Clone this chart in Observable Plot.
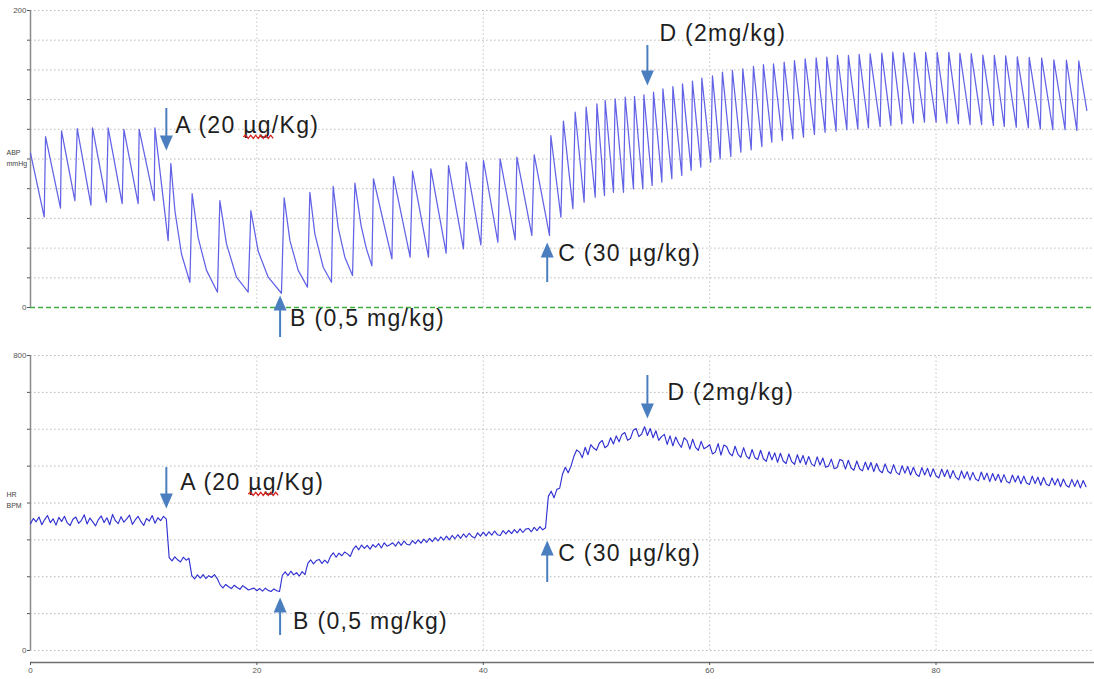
<!DOCTYPE html>
<html><head><meta charset="utf-8">
<script src="https://cdn.jsdelivr.net/npm/d3@7"></script>
<script src="https://cdn.jsdelivr.net/npm/@observablehq/plot@0.6"></script>
<style>
body{margin:0;background:#fff;}
#chart svg{display:block;}
.dose-label{letter-spacing:1.3px;}
</style></head><body><div id="chart"></div>
<script>
// ---- ABP waveform vertices (time, mmHg) ----
const abpTime = [0.00,1.21,1.33,2.65,2.74,3.92,4.13,5.34,5.48,6.71,6.86,8.10,8.25,9.51,9.60,10.93,10.99,12.16,12.40,
12.76,13.34,14.08,14.28,14.81,15.55,16.52,16.73,17.31,18.20,19.23,19.47,20.11,21.00,22.17,22.41,22.92,23.65,24.47,24.68,
25.12,25.86,26.59,26.74,27.18,27.77,28.45,28.66,29.21,29.66,30.16,30.30,
31.93,32.07,33.54,33.75,35.16,35.37,36.72,36.93,38.25,38.49,39.79,40.02,41.29,41.49,42.82,42.97,44.29,44.50,45.85,45.97,
46.86,47.08,47.92,48.12,48.91,49.09,49.89,50.04,50.71,50.77,51.50,51.65,52.39,52.54,53.27,53.36,54.10,54.19,54.92,55.04,
55.78,55.87,56.66,56.75,57.54,57.60,58.37,58.48,59.22,59.31,60.09,60.25,60.93,61.13,61.87,62.01,62.76,62.93,63.67,63.87,
64.61,64.75,65.49,65.64,66.43,66.58,67.35,67.49,68.29,68.44,69.26,69.41,70.20,70.35,71.17,71.29,72.12,72.26,73.09,73.21,
74.03,74.18,75.06,75.21,76.01,76.18,76.98,77.12,78.00,78.09,78.98,79.08,80.01,80.10,80.96,81.13,81.98,82.11,83.01,83.11,
84.03,84.14,85.07,85.15,86.03,86.15,87.09,87.18,88.16,88.23,89.22,89.33,90.32,90.41,91.40,91.52,92.44,92.61,93.32];
const abpValue = [104,61,115,67,119,72,120.5,69,121,71,121,70,120,70,120,72,121,45,97,
65,36,17,76.6,47,25,10.3,72,43,20.4,10.3,65.3,38,20.4,9.6,73.9,45,25,13.7,77.6,
49.6,27.1,17,81.5,54,33.9,21.5,83.7,55,40,28,86.7,
32.8,88.2,33.9,91.8,33.9,93.4,36.6,95.6,39.5,97.9,42.2,99,44,100.1,45.6,101.2,48.5,102.8,48.5,115.8,
60.8,125.5,66.5,131.5,70.9,134.9,74.3,137.2,75.4,139.4,77.6,140.5,77.6,141.6,79.9,142.1,79.9,143.2,82.2,145,
84.4,147.3,86.7,148.8,88.9,150.6,92.3,152.4,94.5,154.5,98,156,100.1,158.5,101.7,159.6,104.6,160.7,106.2,162.3,
108.4,163.6,111.3,164.1,112.5,165.2,113.6,166.3,114.7,167.5,116.5,168.1,118,168.6,118.7,169.7,119.7,169.7,120.3,170.4,
121,170.8,121.9,171.3,122.6,171.9,123.7,171.5,124.1,171.5,124.8,171.8,124.8,171.8,124.1,171.8,123.7,171.2,123.2,171,
123.2,170,122.6,169.7,121.9,169.5,121.4,168.8,121,168.4,120.3,167.9,119.7,166.8,119.7,166.5,119.2,166,132.7];

// ---- HR trace (BPM), one reading every 0.25 time units from 0 ----
const hrStep = 0.25;
const hrValue = [
344,358,349,362,341,355,366,347, 357,340,361,350,364,346,339,356,
362,345,353,368,343,359,349,338, 355,365,347,360,341,369,352,344,
363,348,357,367,342,354,364,350, 339,358,351,366,345,360,352,364,
356,252,243,254,246,240,253,245, 250,203,194,205,196,206,195,203,
198,206,195,178,170,179,173,168, 177,171,166,176,170,164,167,169,
162,168,161,169,163,160,167,162, 160,204,213,203,215,205,211,202,
214,206,236,246,235,244,247,236, 245,237,255,265,253,264,257,267,
262,255,274,284,273,286,277,285, 275,287,280,290,278,292,283,287,
292,283,295,285,297,288,286,298, 290,300,291,302,293,304,295,306,
297,308,299,310,300,312,303,314, 304,316,307,318,309,305,319,310,
321,311,322,313,324,314,312,325, 316,326,317,328,319,330,320,329,
331,322,334,325,336,327,333,418, 432,414,437,440,478,497,482,500,
526,544,538,523,551,531,558,549, 543,562,570,550,556,577,560,582,
566,586,591,570,575,597,602,580, 587,607,583,602,577,596,570,580,
586,559,582,555,579,562,551,577, 569,546,573,551,543,567,547,552,
558,533,538,561,530,557,553,535, 528,554,532,524,550,527,520,545,
523,518,543,520,513,539,517,536, 510,535,514,507,533,512,505,531,
509,529,504,526,506,500,525,503, 522,497,500,519,493,496,518,515,
492,516,495,489,514,493,487,511, 490,510,485,507,488,482,506,486,
480,504,483,477,501,481,499,476, 497,478,472,496,476,494,471,493,
474,468,492,472,490,467,488,470, 463,487,467,485,462,483,465,460,
484,463,481,458,480,461,478,456, 477,458,454,476,457,474,452,473,
454,450,473,453,470,448,469,451, 447,468,449,466,444,465,448,443,
464,445,462,441,461,444];

// ---- axes ----
const xTicks = [0, 20, 40, 60, 80];
const abpTicks = [0, 20, 40, 60, 80, 100, 120, 140, 160, 180, 200];
const hrTicks = [0, 100, 200, 300, 400, 500, 600, 700, 800];

// ---- doses ----
const doseLabel = ["A (20 µg/Kg)", "B (0,5 mg/kg)", "C (30 µg/kg)", "D (2mg/kg)"];
const doseTime = [12.0, 22.05, 45.65, 54.5];
const doseDir = ["down", "up", "up", "down"];

// annotation layout (in each panel's own units)
const abpDosePos = {tail: [134, -20.2, 16.8, 176.4], tip: [105.7, 8.1, 43.8, 149.5], label: [122.6, -7.4, 36.4, 184.5], dx: [9, 10, 11, 12], head: 10};
const hrDosePos = {tail: [496, 40.7, 184.4, 745.8], tip: [385, 143.7, 298, 629.2], label: [455.6, 78.6, 263, 699.7], dx: [14, 13, 11, 20], head: 40};

const W = 1094;
const font = "'Liberation Sans', Arial, sans-serif";
const arrowColor = "#4a7ebf";
const gridColor = "#b9b9b9";
const n = Math.min(abpTime.length, abpValue.length);
const abp = abpTime.slice(0, n).map((t, i) => ({t, v: abpValue[i]}));
const hr = hrValue.map((v, i) => ({t: i * hrStep, v}));

const headUp = {draw(ctx) { ctx.moveTo(0, 0); ctx.lineTo(6.5, 15); ctx.lineTo(-6.5, 15); ctx.closePath(); }};
const headDown = {draw(ctx) { ctx.moveTo(0, 0); ctx.lineTo(6.5, -15); ctx.lineTo(-6.5, -15); ctx.closePath(); }};

function doseMarks(pos) {
  const marks = [];
  doseLabel.forEach((label, i) => {
    const down = doseDir[i] === "down";
    const d = [{t: doseTime[i], tail: pos.tail[i], tip: pos.tip[i], mid: pos.tip[i] + (down ? 0.6 : -0.6) * pos.head, ly: pos.label[i], label}];
    marks.push(Plot.ruleX(d, {x: "t", y1: "tail", y2: "mid", stroke: arrowColor, strokeWidth: 2}));
    marks.push(Plot.dot(d, {x: "t", y: "tip", symbol: down ? headDown : headUp, r: 3, fill: arrowColor, stroke: "none"}));
    marks.push(Plot.text(d, {x: "t", y: "ly", text: "label", dx: pos.dx[i], textAnchor: "start", fontSize: 23, fill: "#1e1e1e", fontFamily: font}));
  });
  return marks;
}
const edgeFmt = (lo, hi) => d => (d === lo || d === hi) ? String(d) : "";

const topPlot = Plot.plot({
  width: W, height: 345, marginLeft: 30, marginRight: 0, marginTop: 10, marginBottom: 38,
  style: {fontFamily: font, background: "white", overflow: "visible"},
  x: {domain: [0, 94], axis: null},
  y: {domain: [0, 200], axis: null},
  marks: [
    Plot.ruleY(abpTicks.filter(d => d > 0), {stroke: gridColor, strokeDasharray: "1.5,2.5"}),
    Plot.ruleX(xTicks.filter(d => d > 0), {y1: 0, y2: 200, stroke: "#c6c6c6", strokeDasharray: "1.5,2.5"}),
    Plot.ruleY([0], {stroke: "#3fae3f", strokeDasharray: "5,3", strokeWidth: 1.3}),
    Plot.axisY({ticks: abpTicks, tickSize: 3, tickPadding: 1, tickFormat: edgeFmt(0, 200), fontSize: 8, color: "#555", label: null}),
    Plot.ruleX([0], {y1: 0, y2: 200, stroke: "#8a8a8a", strokeWidth: 1.5}),
    Plot.text(["ABP"], {x: 0, y: 104, text: d => d, dx: -24, textAnchor: "start", fontSize: 7, fill: "#444"}),
    Plot.text(["mmHg"], {x: 0, y: 97, text: d => d, dx: -24, textAnchor: "start", fontSize: 7, fill: "#444"}),
    Plot.line(abp, {x: "t", y: "v", stroke: "#6262e6", strokeWidth: 1.25}),
    ...doseMarks(abpDosePos)
  ]
});

const bottomPlot = Plot.plot({
  width: W, height: 334, marginLeft: 30, marginRight: 0, marginTop: 10, marginBottom: 29,
  style: {fontFamily: font, background: "white", overflow: "visible"},
  x: {domain: [0, 94], axis: null},
  y: {domain: [0, 800], axis: null},
  marks: [
    Plot.ruleY(hrTicks, {stroke: gridColor, strokeDasharray: "1.5,2.5"}),
    Plot.ruleX(xTicks.filter(d => d > 0), {y1: 0, y2: 800, stroke: "#c6c6c6", strokeDasharray: "1.5,2.5"}),
    Plot.axisY({ticks: hrTicks, tickSize: 3, tickPadding: 1, tickFormat: edgeFmt(0, 800), fontSize: 8, color: "#555", label: null}),
    Plot.ruleX([0], {y1: 0, y2: 800, stroke: "#8a8a8a", strokeWidth: 1.5}),
    Plot.ruleY([0], {dy: 12, stroke: "#6f6f6f", strokeWidth: 1.6}),
    Plot.axisX({ticks: xTicks, tickSize: 3, tickPadding: 2, dy: 12, fontSize: 8, color: "#555", label: null}),
    Plot.text(["HR"], {x: 0, y: 423, text: d => d, dx: -24, textAnchor: "start", fontSize: 7, fill: "#444"}),
    Plot.text(["BPM"], {x: 0, y: 393, text: d => d, dx: -24, textAnchor: "start", fontSize: 7, fill: "#444"}),
    Plot.line(hr, {x: "t", y: "v", stroke: "#3232d2", strokeWidth: 1.15}),
    ...doseMarks(hrDosePos)
  ]
});

const chart = document.getElementById("chart");
chart.append(topPlot, bottomPlot);

// dose-label styling: letter spacing, and the red spell-check squiggle under "µg" in the A labels
for (const svg of [topPlot, bottomPlot]) {
  const texts = Array.from(svg.querySelectorAll("text")).filter(el => doseLabel.includes(el.textContent));
  for (const el of texts) {
    el.classList.add("dose-label");
    const txt = el.textContent;
    const k = txt.indexOf("µg/Kg");
    if (k < 0) continue;
    const a = el.getExtentOfChar(k), b = el.getExtentOfChar(k + 1);
    const x0 = a.x, x1 = b.x + b.width, y = a.y + a.height - 1;
    const path = d3.path();
    path.moveTo(x0, y);
    let up = true;
    for (let x = x0 + 2.5; x <= x1 + 3; x += 2.5) { path.lineTo(x, y + (up ? -1.6 : 1.6)); up = !up; }
    const p = document.createElementNS("http://www.w3.org/2000/svg", "path");
    p.setAttribute("d", path.toString());
    p.setAttribute("fill", "none");
    p.setAttribute("stroke", "#d62020");
    p.setAttribute("stroke-width", "1.3");
    const tr = el.getAttribute("transform");
    if (tr) p.setAttribute("transform", tr);
    el.parentNode.appendChild(p);
  }
}
</script></body></html>
